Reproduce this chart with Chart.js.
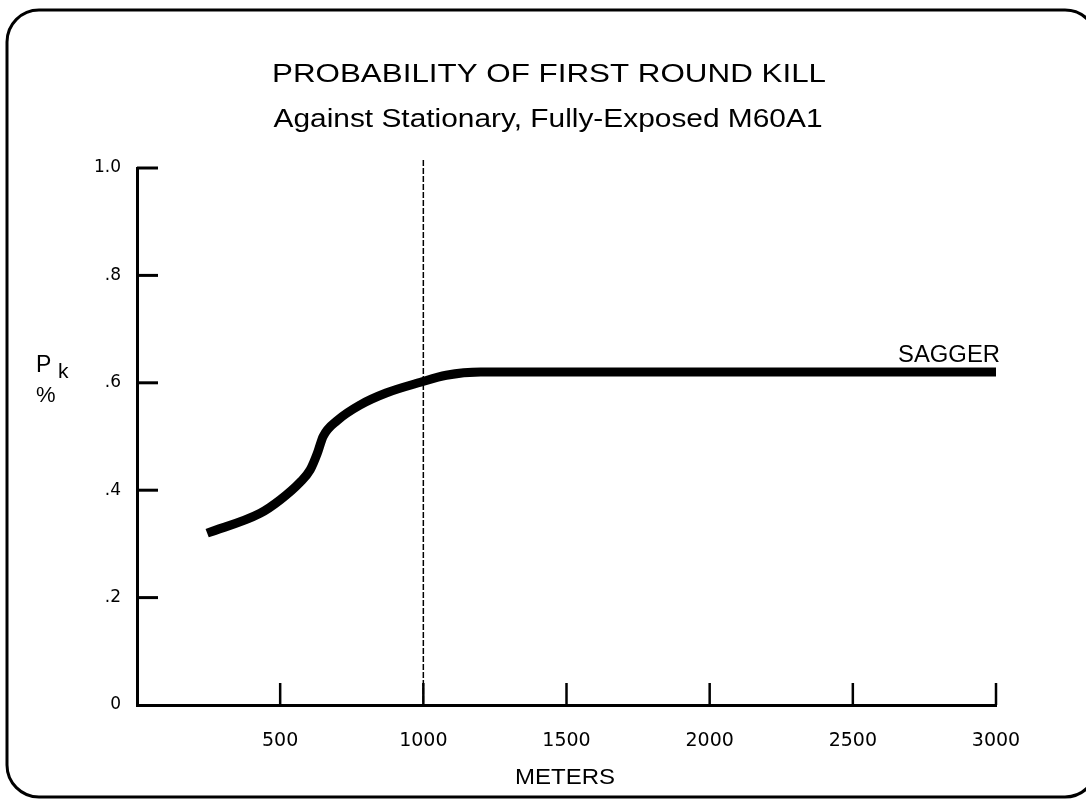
<!DOCTYPE html>
<html>
<head>
<meta charset="utf-8">
<script src="https://cdn.jsdelivr.net/npm/chart.js@4/dist/chart.umd.min.js"></script>
<style>
  body { margin: 0; background: #fff; }
  canvas { display: block; }
</style>
</head>
<body>
<canvas id="myChart" width="1086" height="799"></canvas>
<script>
const meters = [245, 430, 500, 570, 605, 630, 650, 700, 780, 870, 990, 1080, 1200, 2000, 3000];
const pk = [0.32, 0.357, 0.382, 0.415, 0.438, 0.469, 0.5, 0.53, 0.559, 0.581, 0.601, 0.614, 0.62, 0.62, 0.62];
const xTicks = [500, 1000, 1500, 2000, 2500, 3000];
const yTicks = [0, 0.2, 0.4, 0.6, 0.8, 1.0];
const yTickLabels = ["0", ".2", ".4", ".6", ".8", "1.0"];
const markerX = 1000;
const seriesName = "SAGGER";

const FONT = "'Liberation Sans', Arial, sans-serif";
const TICK_FONT = "'DejaVu Sans', sans-serif";

// draw text stretched horizontally to a given width (the original typeface is wide)
function wideText(ctx, text, x, y, width, align) {
  const w = ctx.measureText(text).width;
  ctx.save();
  ctx.translate(x, y);
  ctx.scale(width / w, 1);
  ctx.textAlign = align;
  ctx.fillText(text, 0, 0);
  ctx.restore();
}

// frame, titles, inner tick marks, marker line, labels
const decor = {
  id: "decor",
  beforeDraw(chart) {
    const ctx = chart.ctx;
    ctx.save();
    ctx.fillStyle = "#fff";
    ctx.fillRect(0, 0, chart.width, chart.height);
    ctx.restore();
  },
  afterDraw(chart) {
    const ctx = chart.ctx;
    const x = chart.scales.x;
    const y = chart.scales.y;
    const area = chart.chartArea;
    ctx.save();

    // rounded frame
    ctx.strokeStyle = "#000";
    ctx.lineWidth = 3;
    ctx.beginPath();
    ctx.roundRect(7, 10, 1090, 787, 32);
    ctx.stroke();

    // y tick marks (inside)
    ctx.lineWidth = 3;
    yTicks.forEach(v => {
      if (v === 0) return;
      const py = y.getPixelForValue(v);
      ctx.beginPath();
      ctx.moveTo(area.left, py);
      ctx.lineTo(area.left + 21, py);
      ctx.stroke();
    });
    // x tick marks (pointing up)
    ctx.lineWidth = 2.5;
    xTicks.forEach(v => {
      const px = x.getPixelForValue(v);
      ctx.beginPath();
      ctx.moveTo(px, area.bottom);
      ctx.lineTo(px, area.bottom - 22);
      ctx.stroke();
    });

    // dashed marker line
    ctx.lineWidth = 1.5;
    ctx.setLineDash([6, 2]);
    const mx = x.getPixelForValue(markerX);
    ctx.beginPath();
    ctx.moveTo(mx, area.top - 8);
    ctx.lineTo(mx, area.bottom);
    ctx.stroke();
    ctx.setLineDash([]);

    // titles
    ctx.fillStyle = "#000";
    ctx.textBaseline = "alphabetic";
    ctx.font = "26px " + FONT;
    wideText(ctx, "PROBABILITY OF FIRST ROUND KILL", 549, 82, 554, "center");
    ctx.font = "25px " + FONT;
    wideText(ctx, "Against Stationary, Fully-Exposed M60A1", 548, 127, 549, "center");

    // axis titles
    ctx.font = "22px " + FONT;
    wideText(ctx, "METERS", 565, 784, 100, "center");
    ctx.textAlign = "left";
    ctx.font = "23px " + FONT;
    ctx.fillText("P", 36, 372);
    ctx.font = "21px " + FONT;
    ctx.fillText("k", 58, 378);
    ctx.font = "22px " + FONT;
    ctx.fillText("%", 36, 402);

    // series label
    const lx = x.getPixelForValue(meters[meters.length - 1]);
    const ly = y.getPixelForValue(pk[pk.length - 1]);
    ctx.font = "23px " + FONT;
    wideText(ctx, seriesName, lx + 4, ly - 10, 102, "right");

    ctx.restore();
  }
};

new Chart("myChart", {
  type: "line",
  data: {
    datasets: [
      {
        data: meters.map((m, i) => ({ x: m, y: pk[i] })),
        borderColor: "#000",
        borderWidth: 9,
        borderCapStyle: "butt",
        cubicInterpolationMode: "monotone",
        pointRadius: 0,
        fill: false,
      },
    ],
  },
  options: {
    responsive: false,
    animation: false,
    layout: { padding: { left: 0, top: 168, right: 90, bottom: 0 } },
    plugins: { legend: { display: false }, tooltip: { enabled: false } },
    scales: {
      x: {
        type: "linear",
        min: 0,
        max: 3000,
        afterFit: s => { s.height = 94; },
        afterBuildTicks: s => { s.ticks = xTicks.map(v => ({ value: v })); },
        grid: { display: false, drawTicks: false },
        border: { display: true, color: "#000", width: 3 },
        ticks: {
          color: "#000",
          padding: 25,
          font: { family: TICK_FONT, size: 19 },
          maxRotation: 0,
          callback: v => String(v),
        },
      },
      y: {
        min: 0,
        max: 1,
        afterFit: s => { s.width = 137; },
        afterBuildTicks: s => { s.ticks = yTicks.map(v => ({ value: v })); },
        grid: { display: false, drawTicks: false },
        border: { display: true, color: "#000", width: 3 },
        ticks: {
          color: "#000",
          padding: 16,
          font: { family: TICK_FONT, size: 17 },
          callback: v => yTickLabels[yTicks.indexOf(v)] ?? "",
        },
      },
    },
  },
  plugins: [decor],
});
</script>
</body>
</html>
